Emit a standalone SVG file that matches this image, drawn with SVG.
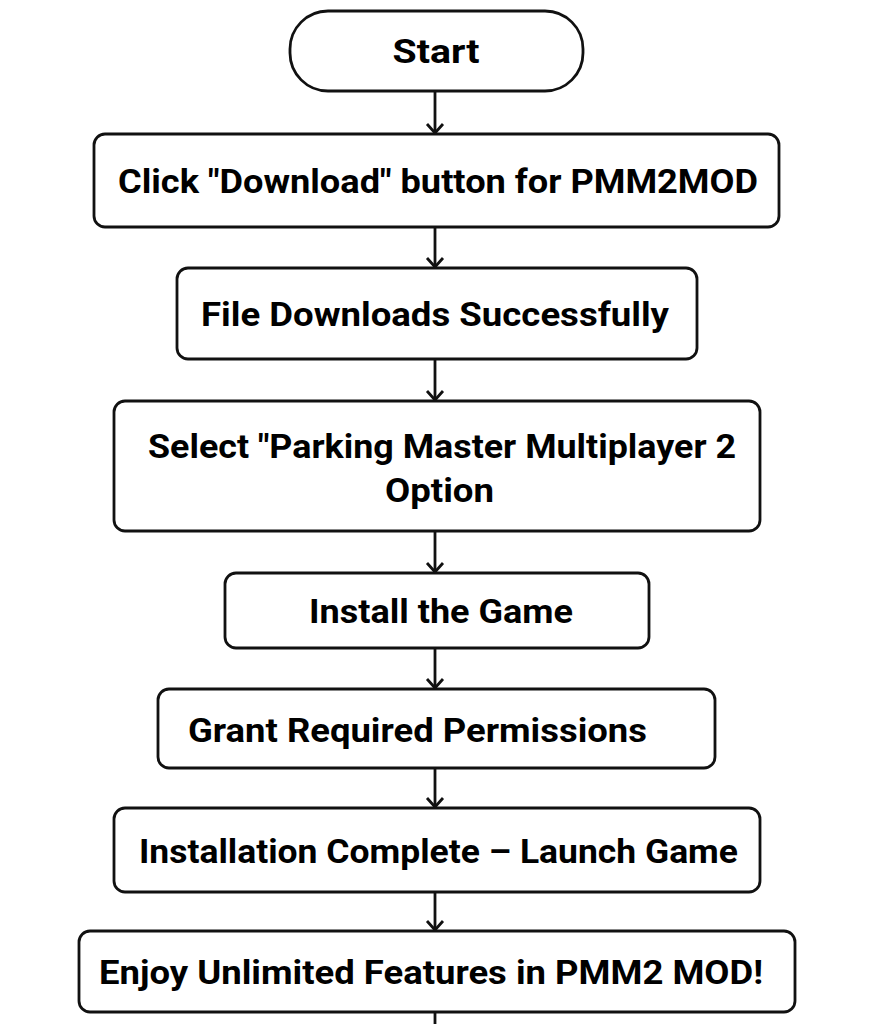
<svg xmlns="http://www.w3.org/2000/svg" width="872" height="1024" viewBox="0 0 872 1024">
<style>
.box{fill:#fff;stroke:#111;stroke-width:2.8}
.lbl{font-family:Roboto,"Liberation Sans",sans-serif;font-weight:700;font-size:34px;fill:#000}
.conn{stroke:#111;stroke-width:2.8;fill:none}
</style>
<defs>
<marker id="arr" viewBox="0 0 20 20" refX="18" refY="10" markerWidth="20" markerHeight="20" markerUnits="userSpaceOnUse" orient="auto">
<path d="M9,2 L18,10 L9,18" fill="none" stroke="#111" stroke-width="2.8"/>
</marker>
</defs>
<rect width="872" height="1024" fill="#fff"/>
<g id="connectors">
<line class="conn" x1="435" y1="91" x2="435" y2="133" marker-end="url(#arr)"/>
<line class="conn" x1="435" y1="227" x2="435" y2="267" marker-end="url(#arr)"/>
<line class="conn" x1="435" y1="359" x2="435" y2="400" marker-end="url(#arr)"/>
<line class="conn" x1="435" y1="531" x2="435" y2="572" marker-end="url(#arr)"/>
<line class="conn" x1="435" y1="648" x2="435" y2="688" marker-end="url(#arr)"/>
<line class="conn" x1="435" y1="768" x2="435" y2="807" marker-end="url(#arr)"/>
<line class="conn" x1="435" y1="892" x2="435" y2="930" marker-end="url(#arr)"/>
<line class="conn" x1="435" y1="1012" x2="435" y2="1024"/>
</g>
<g id="start">
<rect class="box" x="290" y="11" width="293" height="80" rx="38"/>
<text class="lbl" x="436" y="63" text-anchor="middle" font-size="35" textLength="87" lengthAdjust="spacingAndGlyphs">Start</text>
</g>
<g id="download">
<rect class="box" x="94" y="134" width="685" height="93" rx="11"/>
<text class="lbl" x="118" y="193" textLength="640" lengthAdjust="spacingAndGlyphs">Click "Download" button for PMM2MOD</text>
</g>
<g id="downloaded">
<rect class="box" x="177" y="268" width="520" height="91" rx="11"/>
<text class="lbl" x="201" y="326" textLength="468" lengthAdjust="spacingAndGlyphs">File Downloads Successfully</text>
</g>
<g id="select">
<rect class="box" x="114" y="401" width="646" height="130" rx="11"/>
<text class="lbl" x="148" y="458" textLength="588" lengthAdjust="spacingAndGlyphs">Select "Parking Master Multiplayer 2</text>
<text class="lbl" x="385" y="502" textLength="109" lengthAdjust="spacingAndGlyphs">Option</text>
</g>
<g id="install">
<rect class="box" x="225" y="573" width="424" height="75" rx="11"/>
<text class="lbl" x="309" y="623" textLength="264" lengthAdjust="spacingAndGlyphs">Install the Game</text>
</g>
<g id="permissions">
<rect class="box" x="158" y="689" width="557" height="79" rx="11"/>
<text class="lbl" x="188" y="742" textLength="459" lengthAdjust="spacingAndGlyphs">Grant Required Permissions</text>
</g>
<g id="complete">
<rect class="box" x="114" y="808" width="646" height="84" rx="11"/>
<text class="lbl" x="139" y="863" textLength="599" lengthAdjust="spacingAndGlyphs">Installation Complete – Launch Game</text>
</g>
<g id="enjoy">
<rect class="box" x="79" y="931" width="716" height="81" rx="11"/>
<text class="lbl" x="99" y="984" textLength="664" lengthAdjust="spacingAndGlyphs">Enjoy Unlimited Features in PMM2 MOD!</text>
</g>
</svg>
